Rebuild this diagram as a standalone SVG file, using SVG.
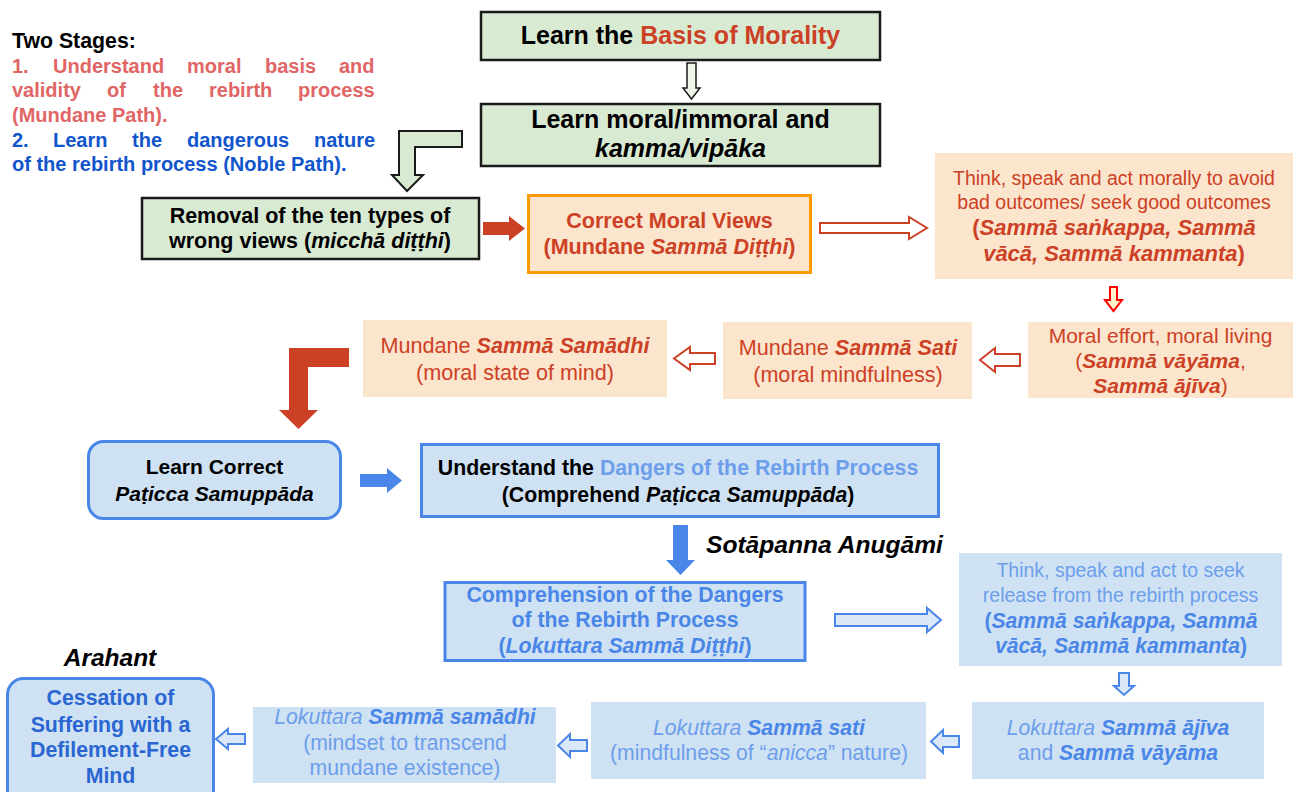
<svg xmlns="http://www.w3.org/2000/svg" width="1298" height="792" viewBox="0 0 1298 792">
<style>
text{font-family:"Liberation Sans",Arial,sans-serif;}
.b{font-weight:bold;}
.i{font-style:italic;}
.bi{font-weight:bold;font-style:italic;}
.c{text-anchor:middle;}
.green{fill:#d9ead3;stroke:#1a1a1a;stroke-width:2.5;}
.peach{fill:#fce5cd;}
.blue{fill:#cfe2f3;}
.bstroke{stroke:#4a86e8;stroke-width:3;}
.red{fill:#cc4125;}
.lred{fill:#e06666;}
.dblue{fill:#1155cc;}
.mblue{fill:#4a86e8;}
.lblue{fill:#6d9eeb;}
.hred{fill:#ffffff;stroke:#cc4125;stroke-width:2;}
.hblue{fill:#dbe8f7;stroke:#4a86e8;stroke-width:2;}
</style>
<rect width="1298" height="792" fill="#ffffff"/>

<g id="stages" class="b" font-size="20">
<text x="12" y="48" font-size="21.3" fill="#000">Two Stages:</text>
<g class="lred">
<text x="12" y="73">1.</text><text x="53" y="73">Understand</text><text x="187" y="73">moral</text><text x="265" y="73">basis</text><text x="339" y="73">and</text>
<text x="12" y="97">validity</text><text x="107" y="97">of</text><text x="153" y="97">the</text><text x="209" y="97">rebirth</text><text x="298" y="97">process</text>
<text x="12" y="122">(Mundane Path).</text>
</g>
<g class="dblue">
<text x="12" y="147">2.</text><text x="53" y="147">Learn</text><text x="132" y="147">the</text><text x="187" y="147">dangerous</text><text x="314" y="147">nature</text>
<text x="12" y="171">of the rebirth process (Noble Path).</text>
</g>
</g>

<g id="connectors">
<polygon points="687,63 696,63 696,88 700,88 691.5,99 683,88 687,88 687,63" fill="#eef6ea" stroke="#1a1a1a" stroke-width="1.5"/>
<polygon points="462,131 462,147 415,147 415,175 423,175 407,191 392,175 399,175 399,131" fill="#d9ead3" stroke="#1a1a1a" stroke-width="2"/>
<polygon points="483,222 509,222 509,216 525,228.5 509,241 509,235 483,235" fill="#cc4125"/>
<polygon points="820,223 909,223 909,217 927,228 909,239 909,233 820,233" class="hred"/>
<polygon points="1110,287 1117,287 1117,300 1122,300 1113.5,311 1105,300 1110,300" fill="#fff2cc" stroke="#ff0000" stroke-width="2"/>
<polygon points="1020,354 995,354 995,348 980,360 995,372 995,366 1020,366" class="hred"/>
<polygon points="715,353 690,353 690,347 674,358.5 690,370 690,364 715,364" class="hred"/>
<polygon points="349,348 349,367 308,367 308,410 318,410 298.5,429 279,410 289,410 289,348" fill="#cc4125"/>
<polygon points="360,474 387,474 387,468 402,480.5 387,493 387,487 360,487" fill="#4a86e8"/>
<polygon points="673,525 688,525 688,560 695,560 680.5,575 666,560 673,560" fill="#4a86e8"/>
<polygon points="835,614 927,614 927,608 941,620 927,632 927,626 835,626" class="hblue"/>
<polygon points="1119,673 1129,673 1129,686 1134,686 1124,695 1114,686 1119,686" class="hblue"/>
<polygon points="959,736 943,736 943,730 931,741.5 943,753 943,747 959,747" class="hblue"/>
<polygon points="587,740 570,740 570,734 558,745.5 570,757 570,751 587,751" class="hblue"/>
<polygon points="245,734 228,734 228,729 216,739 228,749 228,744 245,744" class="hblue"/>
</g>

<g id="basis">
<rect x="481" y="12" width="399" height="48" class="green"/>
<text x="680.5" y="44" class="b c" font-size="25"><tspan fill="#000">Learn the </tspan><tspan class="red">Basis of Morality</tspan></text>
</g>

<g id="kamma">
<rect x="481" y="104" width="399" height="62" class="green"/>
<text x="680.5" y="128" class="b c" font-size="25">Learn moral/immoral and</text>
<text x="680.5" y="157" class="bi c" font-size="25">kamma/vipāka</text>
</g>

<g id="removal">
<rect x="142" y="198" width="337" height="61" class="green"/>
<text x="310" y="223" class="b c" font-size="21.5">Removal of the ten types of</text>
<text x="310" y="248" class="b c" font-size="21.5">wrong views (<tspan class="bi">micchā diṭṭhi</tspan>)</text>
</g>

<g id="correct-views">
<rect x="528.5" y="195.5" width="282" height="77" class="peach" stroke="#ff9900" stroke-width="3"/>
<text x="669.5" y="228" class="b c red" font-size="21.5">Correct Moral Views</text>
<text x="669.5" y="254" class="b c red" font-size="21.5">(Mundane <tspan class="bi">Sammā Diṭṭhi</tspan>)</text>
</g>

<g id="think-moral">
<rect x="935" y="153" width="358" height="126" class="peach"/>
<g class="c red" font-size="19.5">
<text x="1114" y="185">Think, speak and act morally to avoid</text>
<text x="1114" y="209">bad outcomes/ seek good outcomes</text>
<text x="1114" y="235" class="b" font-size="22">(<tspan class="bi">Sammā saṅkappa, Sammā</tspan></text>
<text x="1114" y="261" class="b" font-size="22"><tspan class="bi">vācā, Sammā kammanta</tspan>)</text>
</g>
</g>

<g id="moral-effort">
<rect x="1028" y="322" width="265" height="76" class="peach"/>
<g class="c red" font-size="21">
<text x="1160.5" y="343">Moral effort, moral living</text>
<text x="1160.5" y="368">(<tspan class="bi">Sammā vāyāma</tspan>,</text>
<text x="1160.5" y="393"><tspan class="bi">Sammā ājīva</tspan>)</text>
</g>
</g>

<g id="mundane-sati">
<rect x="723" y="322" width="249" height="77" class="peach"/>
<g class="c red" font-size="21.6">
<text x="848" y="355">Mundane <tspan class="bi">Sammā Sati</tspan></text>
<text x="848" y="382">(moral mindfulness)</text>
</g>
</g>

<g id="mundane-samadhi">
<rect x="363" y="320" width="304" height="77" class="peach"/>
<g class="c red" font-size="21.6">
<text x="515" y="353">Mundane <tspan class="bi">Sammā Samādhi</tspan></text>
<text x="515" y="380">(moral state of mind)</text>
</g>
</g>

<g id="learn-paticca">
<rect x="88.5" y="441.5" width="252" height="77" rx="15" class="blue bstroke"/>
<text x="214.5" y="474" class="b c" font-size="21">Learn Correct</text>
<text x="214.5" y="501" class="bi c" font-size="21">Paṭicca Samuppāda</text>
</g>

<g id="understand-dangers">
<rect x="421.5" y="444.5" width="517" height="72" class="blue bstroke"/>
<text x="678" y="475" class="b c" font-size="21.3"><tspan fill="#000">Understand the </tspan><tspan class="lblue">Dangers of the Rebirth Process</tspan></text>
<text x="678" y="502" class="b c" font-size="21.3">(Comprehend <tspan class="bi">Paṭicca Samuppāda</tspan>)</text>
</g>

<text x="706" y="553" class="bi" font-size="24.6" fill="#000">Sotāpanna Anugāmi</text>

<g id="comprehension">
<rect x="445" y="582.5" width="360" height="78" class="blue bstroke"/>
<g class="b c mblue" font-size="21.3">
<text x="625" y="602">Comprehension of the Dangers</text>
<text x="625" y="627">of the Rebirth Process</text>
<text x="625" y="653">(<tspan class="bi">Lokuttara Sammā Diṭṭhi</tspan>)</text>
</g>
</g>

<g id="think-release">
<rect x="959" y="553" width="323" height="113" class="blue"/>
<g class="c" font-size="19.5">
<text x="1120.5" y="577" class="lblue">Think, speak and act to seek</text>
<text x="1120.5" y="602" class="lblue">release from the rebirth process</text>
<text x="1121" y="628" class="b mblue" font-size="21.2">(<tspan class="bi">Sammā saṅkappa, Sammā</tspan></text>
<text x="1121" y="653" class="b mblue" font-size="21.2"><tspan class="bi">vācā, Sammā kammanta</tspan>)</text>
</g>
</g>

<g id="lok-ajiva">
<rect x="972" y="702" width="292" height="77" class="blue"/>
<g class="c" font-size="21.2">
<text x="1118" y="735"><tspan class="i lblue">Lokuttara </tspan><tspan class="bi mblue">Sammā ājīva</tspan></text>
<text x="1118" y="760"><tspan class="lblue">and </tspan><tspan class="bi mblue">Sammā vāyāma</tspan></text>
</g>
</g>

<g id="lok-sati">
<rect x="591" y="702" width="335" height="77" class="blue"/>
<g class="c" font-size="21.2">
<text x="759" y="735"><tspan class="i lblue">Lokuttara </tspan><tspan class="bi mblue">Sammā sati</tspan></text>
<text x="759" y="760" class="lblue">(mindfulness of “<tspan class="i">anicca</tspan>” nature)</text>
</g>
</g>

<g id="lok-samadhi">
<rect x="253" y="707" width="303" height="76" class="blue"/>
<g class="c" font-size="21.2">
<text x="405" y="724"><tspan class="i lblue">Lokuttara </tspan><tspan class="bi mblue">Sammā samādhi</tspan></text>
<text x="405" y="750" class="lblue">(mindset to transcend</text>
<text x="405" y="775" class="lblue">mundane existence)</text>
</g>
</g>

<text x="110" y="666" class="bi c" font-size="24.5" fill="#000">Arahant</text>

<g id="cessation">
<rect x="7.5" y="678.5" width="206" height="130" rx="16" class="blue bstroke"/>
<g class="b c" font-size="21.3" fill="#2a66d2">
<text x="110.5" y="705">Cessation of</text>
<text x="110.5" y="732">Suffering with a</text>
<text x="110.5" y="757">Defilement-Free</text>
<text x="110.5" y="783">Mind</text>
</g>
</g>
</svg>
